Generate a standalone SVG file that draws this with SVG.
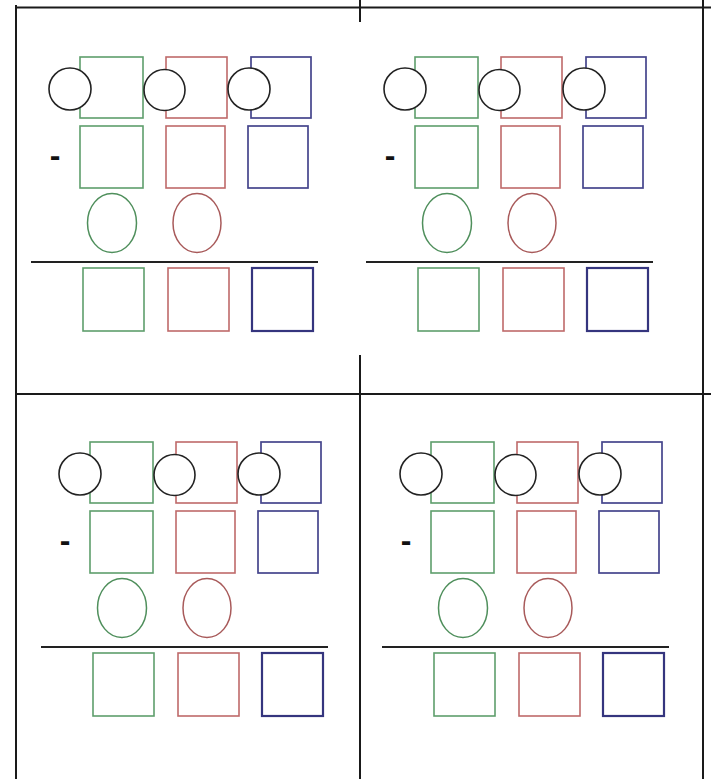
<svg xmlns="http://www.w3.org/2000/svg" width="711" height="779" viewBox="0 0 711 779">
<style>
.frame{stroke:#1a1a1a;stroke-width:2;fill:none}
.g{fill:none;stroke:#5e9e6c;stroke-width:1.6}
.r{fill:none;stroke:#bf6a6a;stroke-width:1.6}
.b{fill:none;stroke:#45458c;stroke-width:1.7}
.b3{fill:none;stroke:#35357e;stroke-width:2.2}
.c{fill:#ffffff;stroke:#222222;stroke-width:1.6}
.og{fill:none;stroke:#4f8f5c;stroke-width:1.5}
.or{fill:none;stroke:#a85a5a;stroke-width:1.5}
.bar{stroke:#222222;stroke-width:1.8}
.minus{font-family:'Liberation Sans',Arial,sans-serif;font-size:32px;font-weight:bold;fill:#111111}
</style>
<rect x="0" y="0" width="711" height="779" fill="#ffffff"/>
<g id="frame">
<line class="frame" x1="15" y1="7.5" x2="711" y2="7.5"/>
<line class="frame" x1="16" y1="5" x2="16" y2="779"/>
<line class="frame" x1="703" y1="0" x2="703" y2="779"/>
<line class="frame" x1="15" y1="394" x2="711" y2="394"/>
<line class="frame" x1="360" y1="0" x2="360" y2="22"/>
<line class="frame" x1="360" y1="355" x2="360" y2="779"/>
</g>
<g id="panel-tl">
<rect class="g" x="80" y="57" width="63" height="61"/>
<rect class="r" x="166" y="57" width="61" height="61"/>
<rect class="b" x="251" y="57" width="60" height="61"/>
<circle class="c" cx="70" cy="89" r="21"/>
<circle class="c" cx="164.5" cy="90" r="20.5"/>
<circle class="c" cx="249" cy="89" r="21"/>
<text class="minus" x="55" y="166" text-anchor="middle">-</text>
<rect class="g" x="80" y="126" width="63" height="62"/>
<rect class="r" x="166" y="126" width="59" height="62"/>
<rect class="b" x="248" y="126" width="60" height="62"/>
<ellipse class="og" cx="112" cy="223" rx="24.5" ry="29.5"/>
<ellipse class="or" cx="197" cy="223" rx="24" ry="29.5"/>
<line class="bar" x1="31" y1="262" x2="318" y2="262"/>
<rect class="g" x="83" y="268" width="61" height="63"/>
<rect class="r" x="168" y="268" width="61" height="63"/>
<rect class="b3" x="252" y="268" width="61" height="63"/>
</g>
<g id="panel-tr" transform="translate(335,0)">
<rect class="g" x="80" y="57" width="63" height="61"/>
<rect class="r" x="166" y="57" width="61" height="61"/>
<rect class="b" x="251" y="57" width="60" height="61"/>
<circle class="c" cx="70" cy="89" r="21"/>
<circle class="c" cx="164.5" cy="90" r="20.5"/>
<circle class="c" cx="249" cy="89" r="21"/>
<text class="minus" x="55" y="166" text-anchor="middle">-</text>
<rect class="g" x="80" y="126" width="63" height="62"/>
<rect class="r" x="166" y="126" width="59" height="62"/>
<rect class="b" x="248" y="126" width="60" height="62"/>
<ellipse class="og" cx="112" cy="223" rx="24.5" ry="29.5"/>
<ellipse class="or" cx="197" cy="223" rx="24" ry="29.5"/>
<line class="bar" x1="31" y1="262" x2="318" y2="262"/>
<rect class="g" x="83" y="268" width="61" height="63"/>
<rect class="r" x="168" y="268" width="61" height="63"/>
<rect class="b3" x="252" y="268" width="61" height="63"/>
</g>
<g id="panel-bl" transform="translate(10,385)">
<rect class="g" x="80" y="57" width="63" height="61"/>
<rect class="r" x="166" y="57" width="61" height="61"/>
<rect class="b" x="251" y="57" width="60" height="61"/>
<circle class="c" cx="70" cy="89" r="21"/>
<circle class="c" cx="164.5" cy="90" r="20.5"/>
<circle class="c" cx="249" cy="89" r="21"/>
<text class="minus" x="55" y="166" text-anchor="middle">-</text>
<rect class="g" x="80" y="126" width="63" height="62"/>
<rect class="r" x="166" y="126" width="59" height="62"/>
<rect class="b" x="248" y="126" width="60" height="62"/>
<ellipse class="og" cx="112" cy="223" rx="24.5" ry="29.5"/>
<ellipse class="or" cx="197" cy="223" rx="24" ry="29.5"/>
<line class="bar" x1="31" y1="262" x2="318" y2="262"/>
<rect class="g" x="83" y="268" width="61" height="63"/>
<rect class="r" x="168" y="268" width="61" height="63"/>
<rect class="b3" x="252" y="268" width="61" height="63"/>
</g>
<g id="panel-br" transform="translate(351,385)">
<rect class="g" x="80" y="57" width="63" height="61"/>
<rect class="r" x="166" y="57" width="61" height="61"/>
<rect class="b" x="251" y="57" width="60" height="61"/>
<circle class="c" cx="70" cy="89" r="21"/>
<circle class="c" cx="164.5" cy="90" r="20.5"/>
<circle class="c" cx="249" cy="89" r="21"/>
<text class="minus" x="55" y="166" text-anchor="middle">-</text>
<rect class="g" x="80" y="126" width="63" height="62"/>
<rect class="r" x="166" y="126" width="59" height="62"/>
<rect class="b" x="248" y="126" width="60" height="62"/>
<ellipse class="og" cx="112" cy="223" rx="24.5" ry="29.5"/>
<ellipse class="or" cx="197" cy="223" rx="24" ry="29.5"/>
<line class="bar" x1="31" y1="262" x2="318" y2="262"/>
<rect class="g" x="83" y="268" width="61" height="63"/>
<rect class="r" x="168" y="268" width="61" height="63"/>
<rect class="b3" x="252" y="268" width="61" height="63"/>
</g>
</svg>
